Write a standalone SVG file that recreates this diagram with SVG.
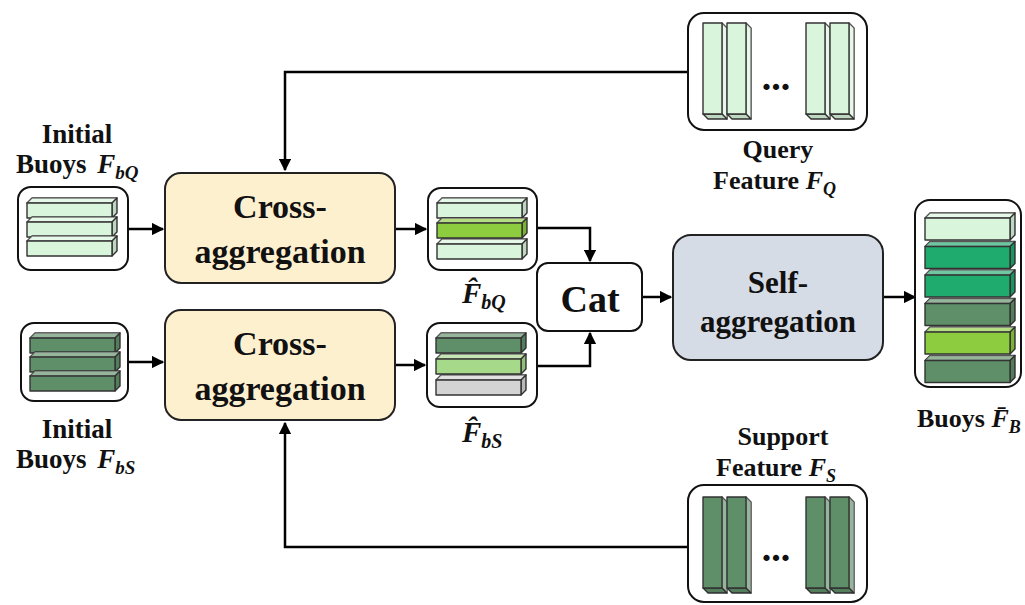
<svg xmlns="http://www.w3.org/2000/svg" xmlns:xlink="http://www.w3.org/1999/xlink" width="1025" height="605" viewBox="0 0 1025 605">
  <style>
    .lbl { font-family: "Liberation Serif", "Times New Roman", serif; font-weight: bold; fill: #111; }
    .it { font-style: italic; }
    .frame { fill: #fff; stroke: #111; stroke-width: 2; }
    .cross { fill: #fdf0cf; stroke: #222; stroke-width: 2; }
    .self { fill: #d6dce6; stroke: #222; stroke-width: 2; }
    .conn { fill: none; stroke: #000; stroke-width: 2.5; }
    .face { stroke: #333; stroke-width: 1.4; stroke-linejoin: round; }
    .lite { fill: #fff; opacity: 0.35; }
    .dark { fill: #000; opacity: 0.12; }
  </style>
  <defs>
    <marker id="arrow" viewBox="0 0 10 10" refX="9" refY="5" markerWidth="5" markerHeight="5" orient="auto" markerUnits="strokeWidth">
      <path d="M0,0 L10,5 L0,10 Z" fill="#000"/>
    </marker>
    <!-- horizontal slab, 90 x 20 -->
    <g id="hslab">
      <path class="face" d="M0,5 L5,0 L90,0 L85,5 Z" fill="currentColor"/>
      <path d="M0,5 L5,0 L90,0 L85,5 Z" class="lite"/>
      <path class="face" d="M85,5 L90,0 L90,15 L85,20 Z" fill="currentColor"/>
      <path d="M85,5 L90,0 L90,15 L85,20 Z" class="dark"/>
      <rect class="face" x="0" y="5" width="85" height="15" fill="currentColor"/>
    </g>
    <!-- taller slab for the output stack, 90 x 27 -->
    <g id="tslab">
      <path class="face" d="M0,5 L5,0 L90,0 L85,5 Z" fill="currentColor"/>
      <path d="M0,5 L5,0 L90,0 L85,5 Z" class="lite"/>
      <path class="face" d="M85,5 L90,0 L90,22 L85,27 Z" fill="currentColor"/>
      <path d="M85,5 L90,0 L90,22 L85,27 Z" class="dark"/>
      <rect class="face" x="0" y="5" width="85" height="22" fill="currentColor"/>
    </g>
    <!-- vertical bar, 24 x 96 -->
    <g id="vbar">
      <path class="face" d="M19,0 L24,5 L24,96 L19,91 Z" fill="currentColor"/>
      <path d="M19,0 L24,5 L24,96 L19,91 Z" class="lite"/>
      <path class="face" d="M0,91 L19,91 L24,96 L5,96 Z" fill="currentColor"/>
      <path d="M0,91 L19,91 L24,96 L5,96 Z" class="dark"/>
      <rect class="face" x="0" y="0" width="19" height="91" fill="currentColor"/>
    </g>
  </defs>

  <!-- connectors -->
  <g id="connectors">
    <path class="conn" d="M688,72 H285 V170" marker-end="url(#arrow)"/>
    <path class="conn" d="M688,547 H285 V423" marker-end="url(#arrow)"/>
    <path class="conn" d="M128,229 H163" marker-end="url(#arrow)"/>
    <path class="conn" d="M128,362 H163" marker-end="url(#arrow)"/>
    <path class="conn" d="M395,229 H426" marker-end="url(#arrow)"/>
    <path class="conn" d="M395,365 H425" marker-end="url(#arrow)"/>
    <path class="conn" d="M537,228 H590 V261" marker-end="url(#arrow)"/>
    <path class="conn" d="M537,366 H590 V333" marker-end="url(#arrow)"/>
    <path class="conn" d="M642,297 H671" marker-end="url(#arrow)"/>
    <path class="conn" d="M883,297 H915" marker-end="url(#arrow)"/>
  </g>

  <!-- initial query buoys -->
  <g id="buoys-q">
    <rect class="frame" x="18" y="187" width="110" height="83" rx="13"/>
    <use xlink:href="#hslab" x="27" y="198" color="#d9f5dc"/>
    <use xlink:href="#hslab" x="27" y="217" color="#d9f5dc"/>
    <use xlink:href="#hslab" x="27" y="236" color="#d9f5dc"/>
    <text class="lbl" x="77" y="143" font-size="27" text-anchor="middle">Initial</text>
    <text class="lbl" x="16" y="173" font-size="27">Buoys <tspan class="it" dx="4">F</tspan><tspan class="it" font-size="19" dy="6">bQ</tspan></text>
  </g>

  <!-- initial support buoys -->
  <g id="buoys-s">
    <rect class="frame" x="21" y="323" width="107" height="78" rx="13"/>
    <use xlink:href="#hslab" x="30" y="333" color="#5f8f68"/>
    <use xlink:href="#hslab" x="30" y="352" color="#5f8f68"/>
    <use xlink:href="#hslab" x="30" y="371" color="#5f8f68"/>
    <text class="lbl" x="77" y="438" font-size="27" text-anchor="middle">Initial</text>
    <text class="lbl" x="16" y="468" font-size="27">Buoys <tspan class="it" dx="4">F</tspan><tspan class="it" font-size="19" dy="6">bS</tspan></text>
  </g>

  <!-- cross-aggregation (query) -->
  <g id="cross-q">
    <rect class="cross" x="165" y="173" width="230" height="110" rx="16"/>
    <text class="lbl" x="280" y="218" font-size="34" text-anchor="middle">Cross-</text>
    <text class="lbl" x="280" y="263" font-size="34" text-anchor="middle">aggregation</text>
  </g>

  <!-- cross-aggregation (support) -->
  <g id="cross-s">
    <rect class="cross" x="165" y="310" width="230" height="110" rx="16"/>
    <text class="lbl" x="280" y="355" font-size="34" text-anchor="middle">Cross-</text>
    <text class="lbl" x="280" y="400" font-size="34" text-anchor="middle">aggregation</text>
  </g>

  <!-- aggregated query buoys -->
  <g id="hat-q">
    <rect class="frame" x="428" y="188" width="109" height="82" rx="13"/>
    <use xlink:href="#hslab" x="437" y="198" color="#d9f5dc"/>
    <use xlink:href="#hslab" x="437" y="218" color="#8ccc3e"/>
    <use xlink:href="#hslab" x="437" y="239" color="#d9f5dc"/>
    <text class="lbl" x="462" y="303" font-size="29"><tspan class="it">F̂</tspan><tspan class="it" font-size="20" dy="6">bQ</tspan></text>
  </g>

  <!-- aggregated support buoys -->
  <g id="hat-s">
    <rect class="frame" x="427" y="323" width="110" height="84" rx="13"/>
    <use xlink:href="#hslab" x="436" y="333" color="#5f8f68"/>
    <use xlink:href="#hslab" x="436" y="354" color="#a6d98a"/>
    <use xlink:href="#hslab" x="436" y="375" color="#d3d3d3"/>
    <text class="lbl" x="462" y="442" font-size="29"><tspan class="it">F̂</tspan><tspan class="it" font-size="20" dy="6">bS</tspan></text>
  </g>

  <!-- concatenation -->
  <g id="cat">
    <rect class="frame" x="537" y="263" width="105" height="68" rx="11"/>
    <text class="lbl" x="590" y="312" font-size="38" text-anchor="middle">Cat</text>
  </g>

  <!-- self-aggregation -->
  <g id="self">
    <rect class="self" x="673" y="235" width="210" height="125" rx="18"/>
    <text class="lbl" x="778" y="293" font-size="31" text-anchor="middle">Self-</text>
    <text class="lbl" x="778" y="332" font-size="31" text-anchor="middle">aggregation</text>
  </g>

  <!-- output buoys -->
  <g id="buoys-out">
    <rect class="frame" x="915" y="200" width="106" height="187" rx="15"/>
    <use xlink:href="#tslab" x="925" y="213" color="#d9f5dc"/>
    <use xlink:href="#tslab" x="925" y="241.5" color="#1faa6e"/>
    <use xlink:href="#tslab" x="925" y="270" color="#1faa6e"/>
    <use xlink:href="#tslab" x="925" y="298.5" color="#5f8f68"/>
    <use xlink:href="#tslab" x="925" y="327" color="#8ccc3e"/>
    <use xlink:href="#tslab" x="925" y="355.5" color="#5f8f68"/>
    <text class="lbl" x="917" y="427" font-size="26">Buoys <tspan class="it">F̄</tspan><tspan class="it" font-size="18" dy="6">B</tspan></text>
  </g>

  <!-- query feature -->
  <g id="feat-q">
    <rect class="frame" x="688" y="13" width="179" height="117" rx="16"/>
    <use xlink:href="#vbar" x="703" y="23" color="#d9f5dc"/>
    <use xlink:href="#vbar" x="727" y="23" color="#d9f5dc"/>
    <use xlink:href="#vbar" x="806" y="23" color="#d9f5dc"/>
    <use xlink:href="#vbar" x="830" y="23" color="#d9f5dc"/>
    <text class="lbl" x="776" y="90" font-size="38" text-anchor="middle">...</text>
    <text class="lbl" x="778" y="158" font-size="26" text-anchor="middle">Query</text>
    <text class="lbl" x="713" y="189" font-size="26">Feature <tspan class="it">F</tspan><tspan class="it" font-size="18" dy="6">Q</tspan></text>
  </g>

  <!-- support feature -->
  <g id="feat-s">
    <rect class="frame" x="688" y="485" width="179" height="117" rx="16"/>
    <use xlink:href="#vbar" x="703" y="497" color="#5f8f68"/>
    <use xlink:href="#vbar" x="727" y="497" color="#5f8f68"/>
    <use xlink:href="#vbar" x="806" y="497" color="#5f8f68"/>
    <use xlink:href="#vbar" x="830" y="497" color="#5f8f68"/>
    <text class="lbl" x="776" y="561" font-size="38" text-anchor="middle">...</text>
    <text class="lbl" x="783" y="445" font-size="26" text-anchor="middle">Support</text>
    <text class="lbl" x="716" y="476" font-size="26">Feature <tspan class="it">F</tspan><tspan class="it" font-size="18" dy="6">S</tspan></text>
  </g>
</svg>
